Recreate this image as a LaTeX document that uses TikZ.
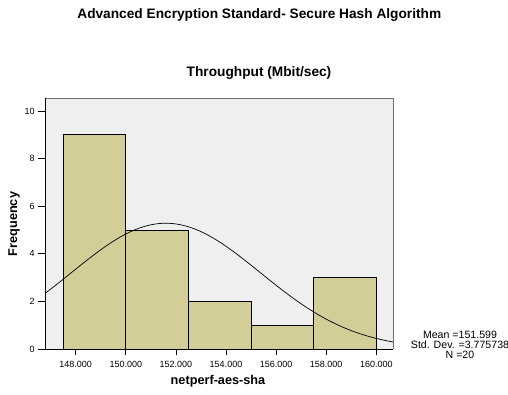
\documentclass[tikz,border=0pt]{standalone}
\usepackage{fontspec}
\setmainfont{Liberation Sans}
\definecolor{plotbg}{RGB}{239,239,239}
\definecolor{barfill}{RGB}{211,206,152}
\definecolor{framegray}{RGB}{110,110,110}
\begin{document}
\begin{tikzpicture}[x=1pt,y=-1pt,
  titletext/.style={font=\fontsize{13.7}{15}\selectfont\bfseries, inner sep=0pt},
  axtext/.style={font=\fontsize{12.7}{14}\selectfont\bfseries, inner sep=0pt},
  ticktext/.style={font=\fontsize{9}{10}\selectfont, inner sep=0pt},
  stattext/.style={font=\fontsize{10.6}{10}\selectfont, inner sep=0pt, align=center},
  bar/.style={fill=barfill, draw=black, line width=0.8pt},
  tickline/.style={draw=black, line width=0.8pt}]
\useasboundingbox (0,0) rectangle (508,394);
% plot area
\fill[plotbg] (45,98) rectangle (393,349);
\begin{scope}[shift={(75.7,349)}, x=25.05pt, y=23.8pt]
  \draw[bar] (-0.5,0) rectangle (2,9);
  \draw[bar] (2,0) rectangle (4.5,5);
  \draw[bar] (4.5,0) rectangle (7,2);
  \draw[bar] (7,0) rectangle (9.5,1);
  \draw[bar] (9.5,0) rectangle (12,3);
  \draw[black, line width=0.7pt, domain=-1.225:12.667, samples=120, smooth]
    plot (\x, {5.283*exp(-0.5*((\x-3.599)/3.775738)^2)});
  \foreach \v/\lab in {0/148.000,2/150.000,4/152.000,6/154.000,8/156.000,10/158.000,12/160.000} {
    \draw[tickline] (\v,0) -- (\v,-0.27);
    \node[ticktext] (xl\v) at (\v,-0.64) {\lab};
  }
  \foreach \c in {0,2,4,6,8,10} {
    \draw[tickline] (-1.225,\c) -- (-1.505,\c);
    \node[ticktext, anchor=east] (yl\c) at (-1.63,\c) {\c};
  }
\end{scope}
\draw[framegray, line width=0.9pt] (45,98) -- (393,98) -- (393,349);
\draw[black, line width=0.9pt] (45,98) -- (45,349) -- (393,349);
% texts
\node[titletext] (title) at (259.3,14.5) {Advanced Encryption Standard- Secure Hash Algorithm};
\node[titletext] (sub) at (259,73) {Throughput (Mbit/sec)};
\node[axtext, rotate=90] (ylab) at (14,224) {Frequency};
\node[axtext] (xlab) at (218,381) {netperf-aes-sha};
\node[stattext] (stats) at (460,345) {Mean =151.599\\Std. Dev. =3.775738\\N =20};
\end{tikzpicture}
\end{document}
